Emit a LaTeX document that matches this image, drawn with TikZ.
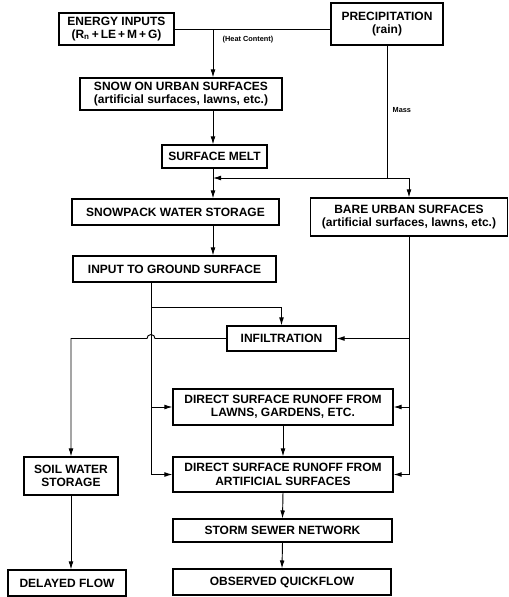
\documentclass[tikz,border=0pt]{standalone}
\usepackage{fontspec}
\setmainfont{Liberation Sans}
\usetikzlibrary{arrows.meta}

\begin{document}
\begin{tikzpicture}[x=0.75pt,y=0.75pt,yscale=-1,xscale=1,
  box/.style={draw, line width=0.8pt, inner sep=0pt, align=center, font=\fontsize{9}{10}\selectfont\bfseries},
  wh/.style 2 args={minimum width=#1*0.75pt, minimum height=#2*0.75pt},
  link/.style={line width=0.7pt},
  flow/.style={link, -{Latex[length=6pt,width=3.6pt]}},
  tag/.style={font=\fontsize{5.5}{6}\selectfont\bfseries}]
\useasboundingbox (0,0) rectangle (508,597);

%Shape: Box (top row)
\node [box, wh={115}{32}] (energy) at (116.5,29) {ENERGY INPUTS\\(R\textsubscript{n}\,+\,LE\,+\,M\,+\,G)};
\node [box, wh={112}{42}] (precip) at (387,24) {PRECIPITATION\\(rain)};
%Shape: Box (snow column)
\node [box, wh={202}{32}] (snow) at (181,94) {SNOW ON URBAN SURFACES\\(artificial surfaces, lawns, etc.)};
\node [box, wh={105}{23}] (melt) at (214.5,156.5) {SURFACE MELT};
\node [box, wh={207}{26}] (snowpack) at (175.5,212) {SNOWPACK WATER STORAGE};
\node [box, wh={197}{38}] (bare) at (409,217) {BARE URBAN SURFACES\\(artificial surfaces, lawns, etc.)};
\node [box, wh={203}{26}] (input) at (174.5,269) {INPUT TO GROUND SURFACE};
\node [box, wh={109}{25}] (infil) at (281.5,338.5) {INFILTRATION};
%Shape: Box (runoff)
\node [box, wh={220}{36}] (lawns) at (283,407) {DIRECT SURFACE RUNOFF FROM\\LAWNS, GARDENS, ETC.};
\node [box, wh={220}{35}] (artif) at (283,474.5) {DIRECT SURFACE RUNOFF FROM\\ARTIFICIAL SURFACES};
\node [box, wh={94}{38}] (soil) at (71,476) {SOIL WATER\\STORAGE};
\node [box, wh={219}{23}] (storm) at (282.5,530.5) {STORM SEWER NETWORK};
\node [box, wh={118}{26}] (delayed) at (67,583) {DELAYED FLOW};
\node [box, wh={218}{26}] (quick) at (282,582) {OBSERVED QUICKFLOW};

% Text Node
\node [tag, anchor=west] (heatlbl) at (218,40) {(Heat Content)};
% Text Node
\node [tag, anchor=west] (masslbl) at (388,110) {Mass};

%Points
\coordinate (heat) at (213,30);
\coordinate (j1) at (213,178);
\coordinate (split) at (151,307);
\coordinate (hop) at (split |- infil.west);

%Lines: energy and rain
\draw [link] (energy.east) -- (energy.east -| precip.west);
\draw [flow] (heat) -- (heat |- snow.north);
\draw [flow] (snow.south -| heat) -- (melt.north -| heat);
\draw [flow] (precip.south) |- (j1);
\draw [flow] (precip.south |- j1) -| (bare.north);
\draw [flow] (melt.south -| heat) -- (snowpack.north -| heat);
\draw [flow] (snowpack.south -| heat) -- (input.north -| heat);

%Lines: ground surface
\draw [link] (input.south -| split) -- (split |- artif.west);
\draw [flow] (split) -| (infil.north);
\draw [flow] (split |- lawns.west) -- (lawns.west);
\draw [flow] (split |- artif.west) -- (artif.west);
\draw [link] (bare.south) -- (bare.south |- artif.east);
\draw [flow] (bare.south |- infil.east) -- (infil.east);
\draw [flow] (bare.south |- lawns.east) -- (lawns.east);
\draw [flow] (bare.south |- artif.east) -- (artif.east);
\draw [flow] (infil.west) -- ([xshift=3pt]hop) arc [start angle=0, end angle=-180, radius=4] -- (soil.north |- infil.west) -- (soil.north);

%Lines: outflow
\draw [flow] (lawns.south) -- (artif.north);
\draw [flow] (artif.south) -- (storm.north);
\draw [flow] (storm.south) -- (quick.north);
\draw [flow] (soil.south) -- (soil.south |- delayed.north);

\end{tikzpicture}
\end{document}
